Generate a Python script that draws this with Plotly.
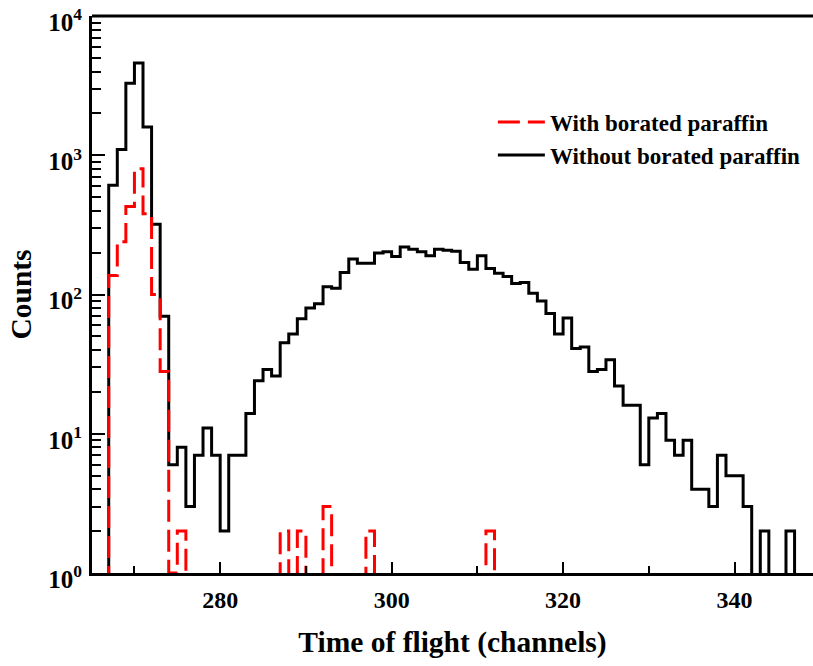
import plotly.graph_objects as go
import numpy as np

# bin left edges (1-channel bins)
channels = list(range(266, 348))

without_bp = [0, 610, 1100, 3300, 4600, 1600, 320, 70, 6, 8,
              3, 7, 11, 7, 2, 7, 7, 14, 24, 29,
              26, 45, 52, 67, 80, 86, 114, 111, 144, 180,
              168, 168, 199, 203, 188, 220, 212, 203, 190, 212,
              208, 205, 170, 152, 190, 154, 142, 135, 120, 122,
              102, 90, 73, 52, 68, 41, 42, 28, 29, 34,
              22, 16, 16, 6, 13, 14, 9, 7, 9, 4,
              4, 3, 7, 5, 5, 3, 0, 2, 0, 0,
              2, 0]

with_bp = [0, 137, 240, 430, 800, 380, 100, 28, 1, 2,
           0, 0, 0, 0, 0, 0, 0, 0, 0, 0,
           0, 2, 0, 2, 0, 0, 3, 0, 0, 0,
           0, 2, 0, 0, 0, 0, 0, 0, 0, 0,
           0, 0, 0, 0, 0, 2, 0, 0, 0, 0,
           0, 0, 0, 0, 0, 0, 0, 0, 0, 0,
           0, 0, 0, 0, 0, 0, 0, 0, 0, 0,
           0, 0, 0, 0, 0, 0, 0, 0, 0, 0,
           0, 0]

x_major = [280, 300, 320, 340]
x_labels = ["280", "300", "320", "340"]
y_major = [1, 10, 100, 1000, 10000]
y_labels = ["10<sup>0</sup>", "10<sup>1</sup>", "10<sup>2</sup>", "10<sup>3</sup>", "10<sup>4</sup>"]

FONT = "Liberation Serif"


def step(counts):
    # empty bins fall just below the log-axis floor (drawn on the baseline)
    xs = channels + [channels[-1] + 1]
    ys = [c if c > 0 else 0.9 for c in counts]
    ys = ys + [ys[-1]]
    return xs, ys


fig = go.Figure()
xb, yb = step(without_bp)
fig.add_trace(go.Scatter(x=xb, y=yb, mode="lines", line_shape="hv",
                         line=dict(color="black", width=3),
                         name="Without borated paraffin", legendrank=2))
xr, yr = step(with_bp)
fig.add_trace(go.Scatter(x=xr, y=yr, mode="lines", line_shape="hv",
                         line=dict(color="#ff0000", width=3, dash="22px,8px"),
                         name="With borated paraffin", legendrank=1))

minor_y = [m * 10 ** d for d in range(0, 4) for m in range(2, 10)]

fig.update_layout(
    width=813, height=666,
    margin=dict(l=92, r=0, t=16, b=93),
    paper_bgcolor="white", plot_bgcolor="white",
    font=dict(family=FONT, size=24, color="black", weight="bold"),
    showlegend=True,
    legend=dict(x=0.556, y=0.848, xanchor="left", yanchor="top",
                bgcolor="rgba(0,0,0,0)", itemwidth=47,
                font=dict(family=FONT, size=23, color="black", weight="bold"),
                tracegroupgap=0),
    xaxis=dict(range=[265.05, 349.15], showgrid=False, zeroline=False,
               showline=True, linecolor="black", linewidth=3, mirror=False,
               tickmode="array", tickvals=x_major, ticktext=x_labels,
               ticks="inside", ticklen=11, tickwidth=2, tickcolor="black",
               minor=dict(tickmode="array", tickvals=[270, 290, 310, 330],
                          ticks="inside", ticklen=7, tickwidth=2, tickcolor="black"),
               ticklabelstandoff=3,
               tickfont=dict(family=FONT, size=24, weight="bold"),
               title=dict(text="Time of flight (channels)", standoff=20,
                          font=dict(family=FONT, size=29.5, weight="bold")),
               automargin=False),
    yaxis=dict(type="log", range=[0, 4.001], showgrid=False, zeroline=False,
               showline=True, linecolor="black", linewidth=3, mirror=False,
               tickmode="array", tickvals=y_major, ticktext=y_labels,
               ticks="inside", ticklen=13, tickwidth=2, tickcolor="black",
               minor=dict(tickmode="array", tickvals=minor_y,
                          ticks="inside", ticklen=9, tickwidth=2, tickcolor="black"),
               ticklabelstandoff=2, ticklabeloverflow="allow", ticklabelshift=6,
               tickfont=dict(family=FONT, size=25, weight="bold"),
               title=dict(text="Counts", standoff=8,
                          font=dict(family=FONT, size=29.5, weight="bold")),
               automargin=False),
    shapes=[dict(type="line", xref="paper", yref="paper", x0=0, x1=1, y0=1, y1=1,
                 line=dict(color="black", width=3), layer="above")],
)

fig.write_html("out.html")
